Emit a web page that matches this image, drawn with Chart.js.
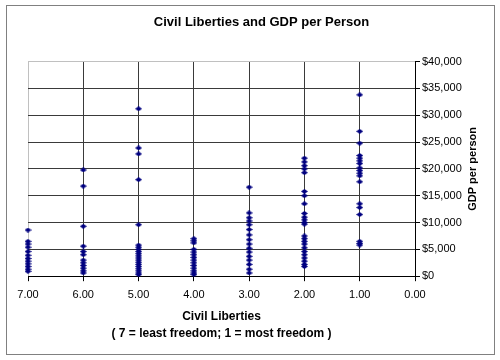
<!DOCTYPE html>
<html>
<head>
<meta charset="utf-8">
<script src="https://cdn.jsdelivr.net/npm/chart.js@4.4.1/dist/chart.umd.min.js"></script>
<style>
  body { margin: 0; background: #fff; }
  #wrap { width: 500px; height: 360px; position: relative; }
</style>
</head>
<body>
<div id="wrap"><canvas id="chart" width="500" height="360"></canvas></div>
<script>
// GDP per person, one list per civil liberties score
const scores = [7, 6, 5, 4, 3, 2, 1];
const gdp7 = [8600, 6500, 6000, 5400, 4600, 3900, 3300, 2800, 2300, 1800, 1300, 900];
const gdp6 = [19800, 16800, 9300, 5600, 4600, 4000, 3000, 2500, 2000, 1500, 1000, 600];
const gdp5 = [31200, 23900, 22800, 18000, 9600, 5800, 5400, 5000, 4600, 4200, 3800, 3400, 3000, 2600, 2200, 1800, 1400, 1000, 600, 300];
const gdp4 = [7000, 6600, 6200, 5000, 4500, 4000, 3500, 3000, 2500, 2000, 1500, 1000, 600, 300];
const gdp3 = [16600, 11800, 10900, 10300, 9600, 8700, 7700, 6800, 6000, 5200, 4500, 3700, 3000, 2200, 1300, 600];
const gdp2 = [22000, 21300, 20600, 20000, 19300, 15800, 15000, 13500, 11700, 11000, 10500, 10000, 9700, 7500, 7000, 6500, 6000, 5300, 4600, 4000, 3400, 2800, 2200, 1800];
const gdp1 = [33800, 27000, 24800, 22500, 22000, 21500, 21000, 20200, 19700, 19200, 18700, 17600, 13500, 12800, 11500, 6500, 6100, 5800];
const xTicks = [7, 6, 5, 4, 3, 2, 1, 0];
const yTicks = [0, 5000, 10000, 15000, 20000, 25000, 30000, 35000, 40000];

const groups = [gdp7, gdp6, gdp5, gdp4, gdp3, gdp2, gdp1];
const points = [];
groups.forEach((vals, i) => {
    vals.forEach(v => points.push({ x: scores[i], y: v }));
});

// petit losange bleu marine
const diamond = document.createElement('canvas');
diamond.width = 7; diamond.height = 5;
const dctx = diamond.getContext('2d');
dctx.fillStyle = '#000080';
dctx.beginPath();
dctx.moveTo(3.5, 0); dctx.lineTo(7, 2.5); dctx.lineTo(3.5, 5); dctx.lineTo(0, 2.5);
dctx.closePath();
dctx.fill();

const framePlugin = {
    id: 'frame',
    beforeDraw(chart) {
        const c = chart.ctx;
        c.save();
        c.fillStyle = '#fff';
        c.fillRect(0, 0, chart.width, chart.height);
        c.strokeStyle = '#808080';
        c.lineWidth = 1;
        c.strokeRect(6.5, 5.5, 488, 349);
        c.restore();
    },
    afterDraw(chart) {
        // titre de l'axe Y, lu de bas en haut
        const area = chart.chartArea;
        const c = chart.ctx;
        c.save();
        c.translate(473, (area.top + area.bottom) / 2);
        c.rotate(-Math.PI / 2);
        c.font = 'bold 11px "Liberation Sans", Arial, sans-serif';
        c.fillStyle = '#000';
        c.textAlign = 'center';
        c.textBaseline = 'middle';
        c.fillText('GDP per person', 0, 0);
        c.restore();
    }
};

const ctx = document.getElementById('chart').getContext('2d');
const chart = new Chart(ctx, {
    type: 'scatter',
    data: {
        datasets: [{
            data: points,
            pointStyle: diamond,
            pointRadius: 3,
            pointHoverRadius: 3,
            backgroundColor: '#000080',
            borderColor: '#000080',
            clip: false
        }]
    },
    options: {
        responsive: false,
        animation: false,
        layout: { padding: { left: 28, right: 5, top: 10, bottom: 18 } },
        plugins: {
            legend: { display: false },
            tooltip: { enabled: false },
            title: {
                display: true,
                text: 'Civil Liberties and GDP per Person',
                color: '#000',
                font: { family: '"Liberation Sans", Arial, sans-serif', size: 13, weight: 'bold' },
                padding: { top: 5, bottom: 31 }
            }
        },
        scales: {
            x: {
                type: 'linear',
                reverse: true,
                min: 0,
                max: 7,
                afterBuildTicks: s => { s.ticks = xTicks.map(v => ({ value: v })); },
                ticks: {
                    color: '#000',
                    padding: 7,
                    maxRotation: 0,
                    font: { family: '"Liberation Sans", Arial, sans-serif', size: 11 },
                    callback: v => Number(v).toFixed(2)
                },
                grid: {
                    color: c => (c.tick && c.tick.value === 7) ? '#c0c0c0' : '#3a3a3a',
                    tickColor: '#000',
                    tickLength: 5
                },
                border: { color: '#000', width: 1 },
                title: {
                    display: true,
                    text: ['Civil Liberties', '( 7 = least freedom; 1 = most freedom )'],
                    color: '#000',
                    font: { family: '"Liberation Sans", Arial, sans-serif', size: 12, weight: 'bold', lineHeight: 1.4 },
                    padding: { top: 0, bottom: 0 }
                }
            },
            y: {
                position: 'right',
                min: 0,
                max: 40000,
                afterBuildTicks: s => { s.ticks = yTicks.map(v => ({ value: v })); },
                afterFit: s => { s.width = 80; },
                ticks: {
                    color: '#000',
                    padding: 2,
                    font: { family: '"Liberation Sans", Arial, sans-serif', size: 11 },
                    callback: v => '$' + Number(v).toLocaleString('en-US')
                },
                grid: {
                    color: c => (c.tick && c.tick.value === 40000) ? '#c0c0c0' : '#3a3a3a',
                    tickColor: '#000',
                    tickLength: 5
                },
                border: { color: '#000', width: 1 }
            }
        }
    },
    plugins: [framePlugin]
});
</script>
</body>
</html>
